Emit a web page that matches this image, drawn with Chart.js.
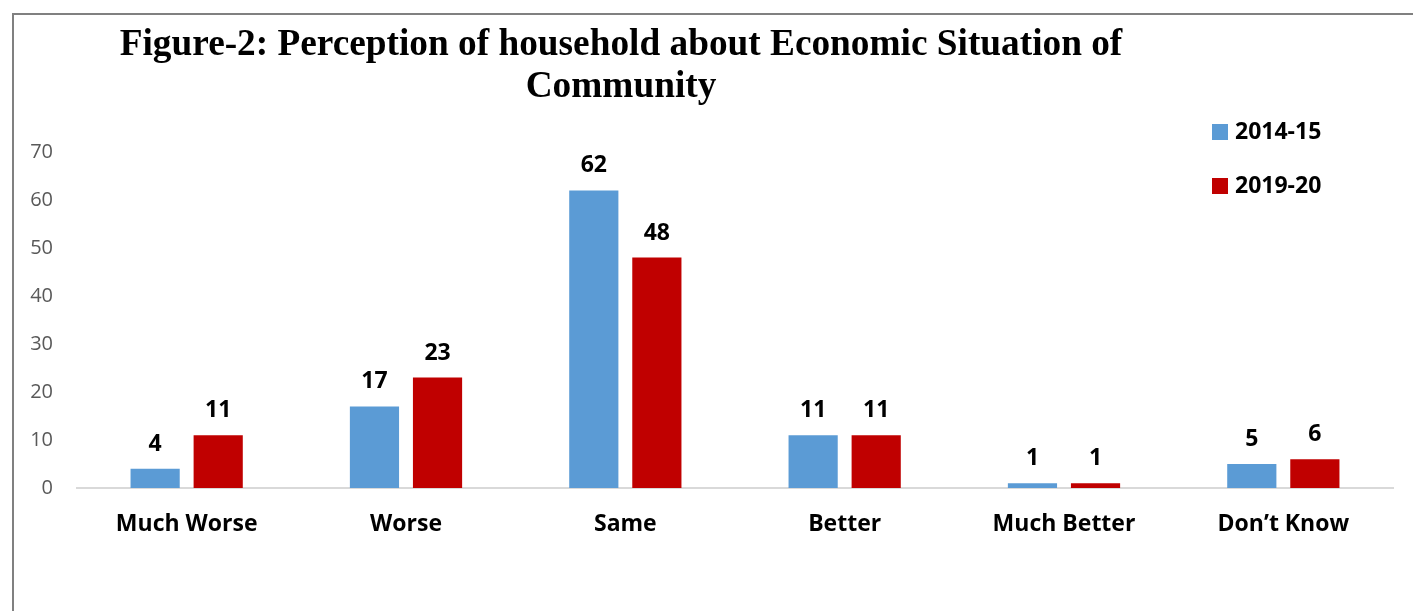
<!DOCTYPE html>
<html>
<head>
<meta charset="utf-8">
<script src="https://cdn.jsdelivr.net/npm/chart.js@4.4.1/dist/chart.umd.min.js"></script>
<style>
  html, body { margin: 0; padding: 0; background: #fff; overflow: hidden; }
  #frame { position: absolute; left: 12px; top: 13px; width: 1420px; height: 640px; border: 2px solid #808080; box-sizing: border-box; }
  #wrap { position: absolute; left: 0; top: 0; width: 1413px; height: 611px; }
</style>
</head>
<body>
<div id="frame"></div>
<div id="wrap"><canvas id="grafica"></canvas></div>
<script>
const titleLines = ['Figure-2: Perception of household about Economic Situation of', 'Community'];
const categories = ['Much Worse', 'Worse', 'Same', 'Better', 'Much Better', 'Don\u2019t Know'];
const seriesNames = ['2014-15', '2019-20'];
const values2014 = [4, 17, 62, 11, 1, 5];
const values2019 = [11, 23, 48, 11, 1, 6];
const yTicks = [0, 10, 20, 30, 40, 50, 60, 70];

const sansBold = '"Open Sans", "Lato", sans-serif';

// title drawn off-centre like the original
const tituloPlugin = {
    id: 'titulo',
    afterDraw(chart) {
        const ctx = chart.ctx;
        ctx.save();
        ctx.fillStyle = '#000';
        ctx.font = 'bold 37.3px "Liberation Serif", "Times New Roman", serif';
        ctx.textAlign = 'center';
        ctx.textBaseline = 'alphabetic';
        ctx.fillText(titleLines[0], 621, 55);
        ctx.fillText(titleLines[1], 621, 97);
        ctx.restore();
    }
};

// value labels over the bars
const etiquetasPlugin = {
    id: 'etiquetas',
    afterDatasetsDraw(chart) {
        const ctx = chart.ctx;
        ctx.save();
        ctx.fillStyle = '#000';
        ctx.font = 'bold 23px ' + sansBold;
        ctx.textAlign = 'center';
        ctx.textBaseline = 'bottom';
        chart.data.datasets.forEach((ds, i) => {
            chart.getDatasetMeta(i).data.forEach((bar, j) => {
                ctx.fillText(String(ds.data[j]), bar.x, bar.y - 13);
            });
        });
        ctx.restore();
    }
};

// legend stacked at the right
const leyendaPlugin = {
    id: 'leyenda',
    afterDraw(chart) {
        const ctx = chart.ctx;
        ctx.save();
        ctx.font = 'bold 23px ' + sansBold;
        ctx.textBaseline = 'middle';
        ctx.textAlign = 'left';
        chart.data.datasets.forEach((ds, i) => {
            const y = 132 + i * 54;
            ctx.fillStyle = ds.backgroundColor;
            ctx.fillRect(1212, y - 8, 16, 16);
            ctx.fillStyle = '#000';
            ctx.fillText(ds.label, 1235, y);
        });
        ctx.restore();
    }
};

document.addEventListener('DOMContentLoaded', function () {
    const ctx = document.getElementById('grafica').getContext('2d');
    new Chart(ctx, {
        type: 'bar',
        data: {
            labels: categories,
            datasets: [{
                label: seriesNames[0],
                data: values2014,
                backgroundColor: '#5B9BD5',
                categoryPercentage: 0.575,
                barPercentage: 0.78
            }, {
                label: seriesNames[1],
                data: values2019,
                backgroundColor: '#C00000',
                categoryPercentage: 0.575,
                barPercentage: 0.78
            }]
        },
        options: {
            responsive: true,
            maintainAspectRatio: false,
            animation: false,
            layout: { padding: { top: 152, right: 20, left: 0, bottom: 0 } },
            plugins: {
                legend: { display: false },
                title: { display: false },
                tooltip: { enabled: false }
            },
            scales: {
                x: {
                    grid: { display: false, drawTicks: false },
                    border: { color: '#d9d9d9', width: 2 },
                    ticks: {
                        color: '#000',
                        padding: 23,
                        font: { family: sansBold, size: 23, weight: 'bold' },
                        maxRotation: 0
                    },
                    afterFit(scale) { scale.height = 123; }
                },
                y: {
                    min: 0,
                    max: 70,
                    grid: { display: false, drawTicks: false },
                    border: { display: false },
                    afterBuildTicks(scale) { scale.ticks = yTicks.map(v => ({ value: v })); },
                    ticks: {
                        color: '#595959',
                        padding: 24,
                        font: { family: '"Open Sans", sans-serif', size: 20 }
                    },
                    afterFit(scale) { scale.width = 77; }
                }
            }
        },
        plugins: [tituloPlugin, etiquetasPlugin, leyendaPlugin]
    });
});
</script>
</body>
</html>
